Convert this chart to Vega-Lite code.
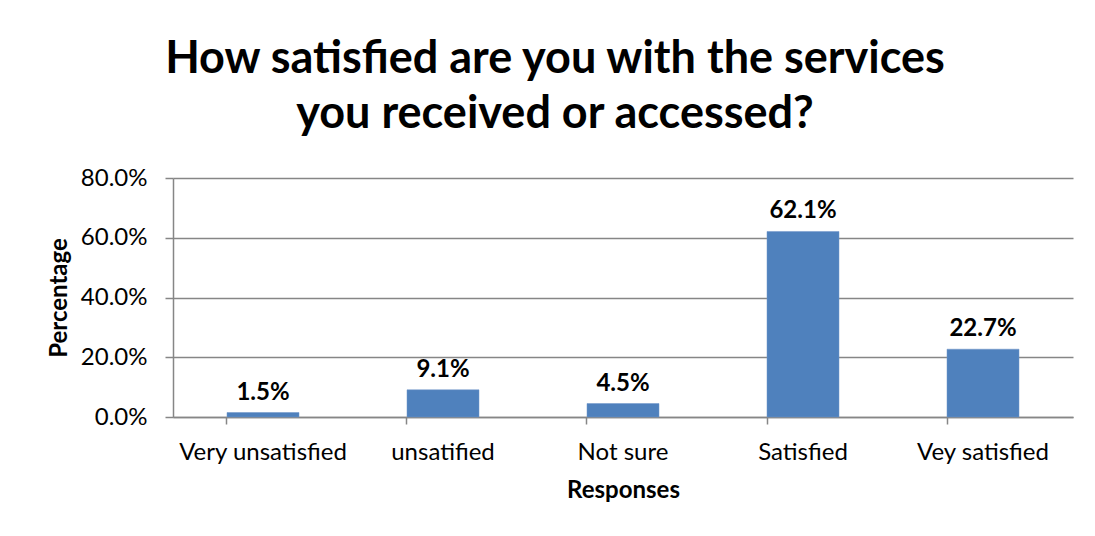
{
  "$schema": "https://vega.github.io/schema/vega-lite/v6.json",
  "width": 900,
  "height": 239,
  "autosize": "none",
  "padding": {"left": 173, "top": 178, "right": 22, "bottom": 119},
  "background": "white",
  "title": {
    "text": ["How satisfied are you with the services", "you received or accessed?"],
    "font": "Lato",
    "fontSize": 45,
    "fontWeight": "bold",
    "color": "black",
    "anchor": "middle",
    "dx": -68,
    "lineHeight": 55,
    "offset": 29
  },
  "data": {
    "values": [
      {"response": "Very unsatisfied", "pct": 0.015},
      {"response": "unsatified", "pct": 0.091},
      {"response": "Not sure", "pct": 0.045},
      {"response": "Satisfied", "pct": 0.621},
      {"response": "Vey satisfied", "pct": 0.227}
    ]
  },
  "config": {
    "view": {"stroke": null},
    "axis": {
      "labelFont": "Lato",
      "labelFontSize": 24,
      "labelColor": "black",
      "titleFont": "Lato",
      "titleFontSize": 24,
      "titleFontWeight": "bold",
      "titleColor": "black",
      "domainColor": "#868686",
      "tickColor": "#868686",
      "gridColor": "#868686",
      "domainWidth": 1.5,
      "tickWidth": 1.5,
      "gridWidth": 1.5
    }
  },
  "encoding": {
    "x": {
      "field": "response",
      "type": "nominal",
      "sort": null,
      "scale": {"paddingInner": 0.6, "paddingOuter": 0.3},
      "axis": {
        "title": "Responses",
        "labelAngle": 0,
        "bandPosition": 0,
        "tickSize": 7,
        "labelPadding": 16,
        "titlePadding": 14,
        "grid": false
      }
    },
    "y": {
      "field": "pct",
      "type": "quantitative",
      "scale": {"domain": [0, 0.8]},
      "axis": {
        "title": "Percentage",
        "values": [0, 0.2, 0.4, 0.6, 0.8],
        "format": ".1%",
        "tickSize": 8,
        "labelPadding": 18,
        "titlePadding": 9,
        "grid": true
      }
    }
  },
  "layer": [
    {"mark": {"type": "bar", "color": "#4F81BD", "stroke": "#6E95C8", "strokeWidth": 0.5}},
    {
      "mark": {"type": "text", "baseline": "alphabetic", "dy": -13, "font": "Lato", "fontSize": 24, "fontWeight": "bold", "color": "black"},
      "encoding": {"text": {"field": "pct", "format": ".1%"}}
    }
  ]
}
